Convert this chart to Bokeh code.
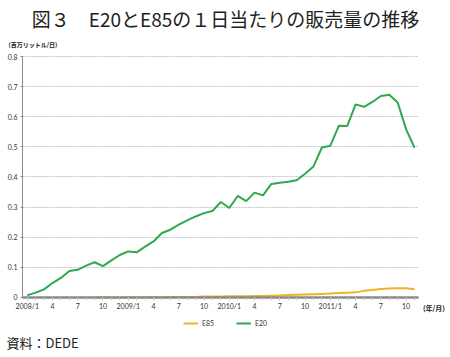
from bokeh.plotting import figure
from bokeh.models import Range1d, FixedTicker, Label, Legend, LegendItem, LinearAxis
from bokeh.embed import file_html
from bokeh.resources import INLINE

# months since 2008/1 (0 = 2008/1 ... 46 = 2011/11)
e20_month = list(range(47))
e20 = [0.007, 0.016, 0.027, 0.048, 0.065, 0.088, 0.092, 0.106, 0.117, 0.104,
       0.123, 0.141, 0.153, 0.150, 0.169, 0.186, 0.214, 0.225, 0.242, 0.256,
       0.269, 0.280, 0.287, 0.317, 0.297, 0.337, 0.320, 0.348, 0.339, 0.377,
       0.381, 0.384, 0.389, 0.411, 0.435, 0.498, 0.504, 0.570, 0.569, 0.641,
       0.633, 0.649, 0.669, 0.673, 0.647, 0.558, 0.497]

e85_month = list(range(8, 47))
e85 = [0.000, 0.000, 0.000, 0.000, 0.001, 0.001, 0.001, 0.001, 0.001, 0.002,
       0.002, 0.002, 0.002, 0.003, 0.003, 0.003, 0.004, 0.004, 0.004, 0.005,
       0.005, 0.006, 0.007, 0.008, 0.009, 0.010, 0.011, 0.012, 0.013, 0.015,
       0.016, 0.017, 0.022, 0.025, 0.028, 0.030, 0.031, 0.031, 0.027]

x_tick_pos = [0, 3, 6, 9, 12, 15, 18, 21, 24, 27, 30, 33, 36, 39, 42, 45]
x_tick_labels = ["2008/1", "4", "7", "10", "2009/1", "4", "7", "10",
                 "2010/1", "4", "7", "10", "2011/1", "4", "7", "10"]
y_tick_pos = [0, 0.1, 0.2, 0.3, 0.4, 0.5, 0.6, 0.7, 0.8]
y_tick_labels = ["0", "0.1", "0.2", "0.3", "0.4", "0.5", "0.6", "0.7", "0.8"]

title_text = "図３　E20とE85の１日当たりの販売量の推移"
unit_text = "(百万リットル/日)"
xunit_text = "(年/月)"
source_text = "資料：DEDE"

GREEN = "#2fa84f"
YELLOW = "#f0b323"
AXIS = "#8a8a8a"
CJK = "Noto Sans CJK JP"
LAT = "Lato"

X0, X1 = -0.56, 46.47   # extent of the plotting area (axis bounds)

p = figure(width=450, height=357, output_backend="svg", toolbar_location=None,
           x_range=Range1d(-3.173, 50.27), y_range=Range1d(-0.1992, 0.9859),
           x_axis_location=None, y_axis_location=None,
           min_border_left=0, min_border_right=0, min_border_top=0,
           min_border_bottom=0, outline_line_color=None)
p.background_fill_color = "white"
p.border_fill_color = "white"

xaxis = LinearAxis(fixed_location=0, bounds=(X0, X1))
xaxis.ticker = FixedTicker(ticks=x_tick_pos, minor_ticks=e20_month)
xaxis.major_label_overrides = {t: l for t, l in zip(x_tick_pos, x_tick_labels)}
xaxis.axis_line_color = AXIS
xaxis.axis_line_width = 2.5
xaxis.major_tick_line_color = "#cccccc"
xaxis.minor_tick_line_color = "#cccccc"
xaxis.major_tick_in = 0
xaxis.major_tick_out = 3
xaxis.minor_tick_in = 0
xaxis.minor_tick_out = 3
xaxis.major_label_standoff = 2
xaxis.major_label_text_font = LAT
xaxis.major_label_text_font_size = "7px"
xaxis.major_label_text_color = "#333333"
p.add_layout(xaxis, "below")

yaxis = LinearAxis(fixed_location=X0, bounds=(0, 0.8))
yaxis.ticker = FixedTicker(ticks=y_tick_pos)
yaxis.major_label_overrides = {t: l for t, l in zip(y_tick_pos, y_tick_labels)}
yaxis.axis_line_color = AXIS
yaxis.axis_line_width = 1
yaxis.major_tick_line_color = AXIS
yaxis.major_tick_in = 0
yaxis.major_tick_out = 2
yaxis.minor_tick_line_color = None
yaxis.major_label_standoff = 3
yaxis.major_label_text_font = LAT
yaxis.major_label_text_font_size = "7px"
yaxis.major_label_text_color = "#333333"
p.add_layout(yaxis, "left")

p.xgrid.grid_line_color = None
p.ygrid.ticker = FixedTicker(ticks=y_tick_pos[1:])
p.ygrid.cross_bounds = (X0, X1)
p.ygrid.grid_line_color = "#c4c4c4"
p.ygrid.grid_line_dash = "2 1"
p.ygrid.grid_line_width = 1

r85 = p.line(e85_month, e85, line_color=YELLOW, line_width=2)
r20 = p.line(e20_month, e20, line_color=GREEN, line_width=2)

legend = Legend(items=[LegendItem(label="E85", renderers=[r85]),
                       LegendItem(label="E20", renderers=[r20])],
                orientation="horizontal", location=(183, 30),
                border_line_color=None, background_fill_alpha=0,
                label_text_font=LAT, label_text_font_size="7px",
                label_text_color="#333333",
                glyph_width=15, glyph_height=8, label_standoff=4, spacing=14,
                padding=2, margin=0)
p.add_layout(legend, "center")

p.add_layout(Label(x=23.55, y=0.926, text=title_text, text_align="center",
                   text_baseline="middle", text_font=CJK, text_font_size="19px",
                   text_color="#222222"))
p.add_layout(Label(x=-2.22, y=0.840, text=unit_text, text_align="left",
                   text_baseline="middle", text_font=CJK, text_font_size="6px",
                   text_font_style="bold", text_color="#222222"))
p.add_layout(Label(x=48.3, y=-0.0365, text=xunit_text, text_align="center",
                   text_baseline="middle", text_font=CJK, text_font_size="7px",
                   text_font_style="bold", text_color="#222222"))
p.add_layout(Label(x=-2.46, y=-0.150, text=source_text, text_align="left",
                   text_baseline="middle", text_font=CJK, text_font_size="13px",
                   text_color="#222222"))

open("out.html", "w").write(file_html(p, INLINE))
